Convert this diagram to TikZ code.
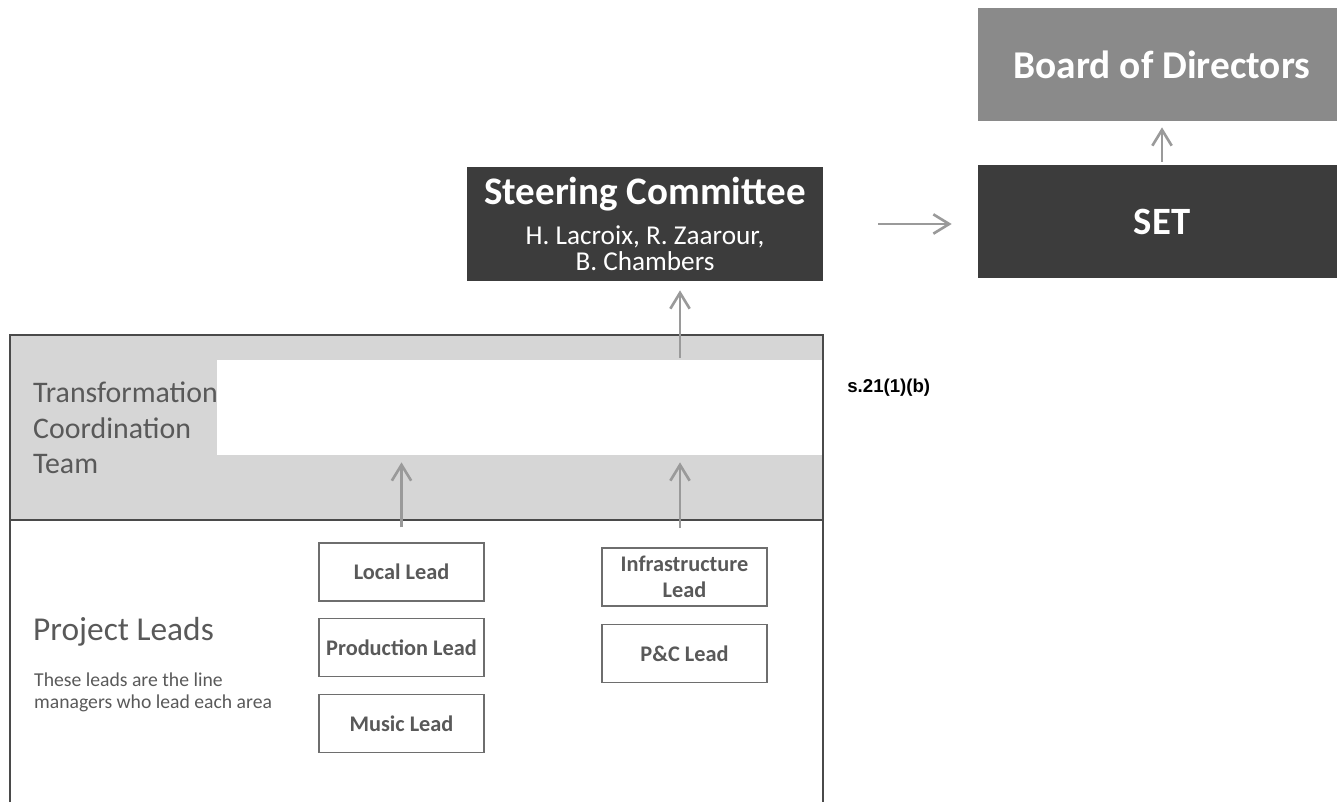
\documentclass[tikz,border=0pt]{standalone}
\usepackage{fontspec}
\setmainfont{Carlito}
\newfontfamily\arialfont{Liberation Sans}
\usetikzlibrary{arrows.meta,positioning}

\definecolor{darkfill}{HTML}{3C3C3C}
\definecolor{midfill}{HTML}{8A8A8A}
\definecolor{bandfill}{HTML}{D6D6D6}
\definecolor{textgray}{HTML}{595959}
\definecolor{linegray}{HTML}{4A4A4A}
\definecolor{arrowgray}{HTML}{9A9A9A}

\tikzset{
    topbox/.style={rectangle, text=white, align=center, inner sep=0pt},
    leadbox/.style={draw=linegray!80, line width=0.8pt, rectangle, minimum width=3.3cm, minimum height=1.16cm,
        inner sep=0pt, align=center, text=textgray, font=\fontsize{12.7}{14.7}\selectfont\bfseries},
    uparrow/.style={draw=arrowgray, line width=1.5pt, -{Straight Barb[length=9pt,width=11pt]}},
}

\begin{document}
\begin{tikzpicture}[x=0.02cm, y=-0.02cm]
    \useasboundingbox (0,0) rectangle (1337,802);

    % top boxes
    \node[topbox, fill=midfill, minimum width=7.36cm, minimum height=2.26cm, font=\fontsize{22.4}{26}\selectfont\bfseries]
        (board) at (1162,64.5) {Board of Directors};
    \node[topbox, fill=darkfill, minimum width=7.36cm, minimum height=2.26cm, font=\fontsize{22}{26}\selectfont\bfseries]
        (set) at (1162,221.5) {SET};
    \node[topbox, fill=darkfill, minimum width=7.12cm, minimum height=2.28cm, font=\fontsize{15.5}{15}\selectfont]
        (steer) at (645,224)
        {{\fontsize{22.2}{24}\selectfont\bfseries Steering Committee}\\[8pt]
         H. Lacroix, R. Zaarour,\\
         B. Chambers};

    % coordination team band and lead area
    \node[rectangle, fill=bandfill, minimum width=16.26cm, minimum height=3.7cm, inner sep=0pt] (tct) at (416.5,427.5) {};
    \node[rectangle, fill=white, minimum width=12.12cm, minimum height=1.9cm, inner sep=0pt] (gap) at (520,407.5) {};
    \draw[linegray, line width=1.2pt] (10,802) -- (10,335) -- (823,335) -- (823,802);
    \draw[linegray, line width=1.2pt] (tct.south west) -- (tct.south east);

    \node[anchor=west, align=left, text=textgray, font=\fontsize{17}{20.2}\selectfont] (tctlabel) at (27,428)
        {Transformation\\Coordination\\Team};
    \node[anchor=west, text=textgray, font=\fontsize{19}{22}\selectfont] (plabel) at (27,632) {Project Leads};
    \node[anchor=west, align=left, text=textgray, font=\fontsize{11.2}{12.5}\selectfont] (pnote) at (28,692)
        {These leads are the line\\managers who lead each area};

    \node[leadbox] (local) at (401.5,572) {Local Lead};
    \node[leadbox, below=0.32cm of local] (prod) {Production Lead};
    \node[leadbox, below=0.33cm of prod] (music) {Music Lead};
    \node[leadbox] (infra) at (684.5,577) {Infrastructure\\Lead};
    \node[leadbox, below=0.34cm of infra] (pc) {P\&C Lead};

    \node[anchor=west, inner sep=0pt, font=\arialfont\fontsize{10.6}{12}\selectfont\bfseries] (sref) at (847,388) {s.21(1)(b)};

    % arrows
    \coordinate (tctup) at (680,358);
    \coordinate (infraup) at (680,528);
    \draw[uparrow] ([yshift=0.3cm]local.north) -- ([yshift=-0.14cm]gap.south -| local.north);
    \draw[uparrow] (infraup) -- ([yshift=-0.14cm]gap.south -| infraup);
    \draw[uparrow] (tctup) -- ([yshift=-0.18cm]steer.south -| tctup);
    \draw[uparrow, shorten <=1.1cm, shorten >=0.52cm] (steer.east) -- (set.west |- steer.east);
    \draw[uparrow, shorten <=0.06cm, shorten >=0.12cm] (set.north) -- (board.south);
\end{tikzpicture}
\end{document}
